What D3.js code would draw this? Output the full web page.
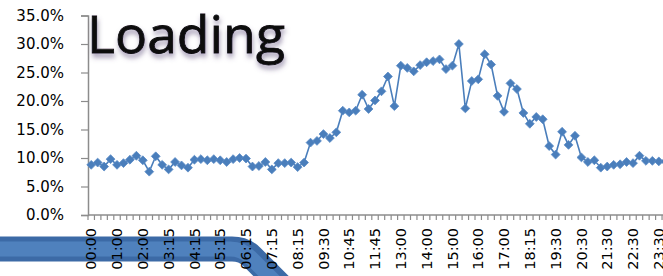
<!DOCTYPE html>
<html>
<head>
<meta charset="utf-8">
<script src="https://cdn.jsdelivr.net/npm/d3@7"></script>
<style>
  html, body { margin: 0; padding: 0; background: #fff; overflow: hidden; }
  svg { display: block; }
</style>
</head>
<body>
<div id="chart"></div>
<script>
// time slots (some 15 min slots are missing in the source)
const times = [
  "00:00","00:15","00:30","00:45","01:00","01:15","01:30","01:45","02:00","02:15",
  "02:45","03:00","03:15","03:30","03:45","04:00","04:15","04:30","04:45","05:00",
  "05:15","05:30","05:45","06:00","06:15","06:30","06:45","07:00","07:15","07:30",
  "07:45","08:00","08:15","08:30","08:45","09:15","09:30","09:45","10:15","10:30",
  "10:45","11:00","11:15","11:30","11:45","12:00","12:30","12:45","13:00","13:15",
  "13:30","13:45","14:00","14:15","14:30","14:45","15:00","15:15","15:30","15:45",
  "16:00","16:15","16:30","16:45","17:00","17:15","17:30","18:00","18:15","18:30",
  "18:45","19:00","19:30","19:45","20:00","20:15","20:30","20:45","21:00","21:15",
  "21:30","21:45","22:00","22:15","22:30","22:45","23:00","23:15","23:30","23:45"
];

// loading in percent
const loading = [
  8.8, 9.2, 8.5, 9.8, 8.8, 9.1, 9.7, 10.4, 9.6, 7.6,
  10.3, 8.8, 8.0, 9.3, 8.7, 8.3, 9.7, 9.8, 9.6, 9.8,
  9.6, 9.3, 9.8, 10.0, 9.9, 8.5, 8.6, 9.3, 8.0, 9.1,
  9.1, 9.2, 8.4, 9.2, 12.7, 13.0, 14.2, 13.5, 14.5, 18.3,
  18.0, 18.3, 21.1, 18.6, 20.1, 21.7, 24.3, 19.1, 26.2, 25.8,
  25.2, 26.3, 26.8, 27.0, 27.3, 25.6, 26.2, 30.0, 18.7, 23.5,
  23.8, 28.2, 26.4, 20.9, 18.1, 23.1, 22.1, 17.9, 16.0, 17.2,
  16.8, 12.1, 10.6, 14.6, 12.3, 13.9, 10.1, 9.3, 9.6, 8.3,
  8.5, 8.8, 8.9, 9.3, 9.1, 10.4, 9.5, 9.5, 9.4, 9.4
];

const yTicks = [0, 0.05, 0.10, 0.15, 0.20, 0.25, 0.30, 0.35];
const labelEvery = 4;

const width = 663, height = 276;
const svg = d3.select("#chart").append("svg")
    .attr("width", width)
    .attr("height", height)
    .style("font-family", "'DejaVu Sans', sans-serif");

const data = times.map((t, i) => ({ t, v: loading[i] / 100 }));

// plot runs past the right edge, like the cropped original
const x = d3.scaleBand().domain(times).range([88, 668.5]).padding(0);
const y = d3.scaleLinear().domain([0, 0.35]).range([215, 15.5]);

// blue ribbon behind the axis labels
svg.append("path").attr("d", "M-20,249 L232,249 Q244,249 252,257 L300,305")
    .attr("fill", "none").attr("stroke", "#3c6aa6").attr("stroke-width", 25);
svg.append("path").attr("d", "M-20,249 L230,249 Q242,249 250,257 L300,307")
    .attr("fill", "none").attr("stroke", "#4f81bd").attr("stroke-width", 15);

// y axis
const yAxis = svg.append("g")
    .attr("transform", "translate(88,0)")
    .call(d3.axisLeft(y).tickValues(yTicks).tickFormat(d3.format(".1%")).tickSize(7).tickPadding(17));
yAxis.select(".domain").attr("stroke", "#8c8c8c").attr("stroke-width", 1.5);
yAxis.selectAll(".tick line").attr("stroke", "#8c8c8c").attr("stroke-width", 1.2);
yAxis.selectAll("text").attr("fill", "#000").style("font-size", "15px")
    .style("font-family", "'DejaVu Sans', sans-serif");

// x axis: minor ticks between categories
const xAxis = svg.append("g")
    .attr("transform", `translate(${-x.step() / 2},215)`)
    .call(d3.axisBottom(x).tickSize(5).tickFormat(""));
xAxis.select(".domain").remove();
xAxis.selectAll(".tick line").attr("stroke", "#8c8c8c").attr("stroke-width", 1.2);
svg.append("line")
    .attr("x1", 88).attr("x2", width + 10).attr("y1", 215).attr("y2", 215)
    .attr("stroke", "#8c8c8c").attr("stroke-width", 1.5);

// x labels, every 4th slot, rotated
svg.append("g")
    .selectAll("text")
    .data(times.filter((d, i) => i % labelEvery === 0))
    .join("text")
    .attr("transform", d => `translate(${x(d) + x.bandwidth() / 2},228) rotate(-90)`)
    .attr("text-anchor", "end")
    .attr("dy", "0.35em")
    .style("font-size", "14.5px")
    .attr("fill", "#000")
    .text(d => d);

// line + diamond markers
const line = d3.line()
    .x(d => x(d.t) + x.bandwidth() / 2)
    .y(d => y(d.v));

svg.append("path")
    .datum(data)
    .attr("fill", "none")
    .attr("stroke", "#4a7ebb")
    .attr("stroke-width", 1.6)
    .attr("d", line);

const diamond = d3.symbol().type(d3.symbolDiamond2).size(50);
svg.append("g")
    .selectAll("path")
    .data(data)
    .join("path")
    .attr("transform", d => `translate(${x(d.t) + x.bandwidth() / 2},${y(d.v)})`)
    .attr("d", diamond)
    .attr("fill", "#4a7ebb")
    .attr("stroke", "#5b8cc6")
    .attr("stroke-width", 0.8);

// "Loading" title with soft shadow
const defs = svg.append("defs");
const f = defs.append("filter").attr("id", "shadow")
    .attr("x", "-10%").attr("y", "-30%").attr("width", "130%").attr("height", "180%");
f.append("feGaussianBlur").attr("in", "SourceAlpha").attr("stdDeviation", 2.5).attr("result", "b");
f.append("feOffset").attr("in", "b").attr("dx", 1).attr("dy", 4).attr("result", "o");
f.append("feFlood").attr("flood-color", "#5a4a78").attr("flood-opacity", 0.55);
f.append("feComposite").attr("in2", "o").attr("operator", "in").attr("result", "s");
const m = f.append("feMerge");
m.append("feMergeNode").attr("in", "s");
m.append("feMergeNode").attr("in", "SourceGraphic");

svg.append("text")
    .attr("x", 87)
    .attr("y", 53)
    .attr("textLength", 198)
    .attr("lengthAdjust", "spacingAndGlyphs")
    .attr("filter", "url(#shadow)")
    .attr("stroke", "#0a0a0a")
    .attr("stroke-width", 0.8)
    .style("font-family", "'Open Sans', 'Noto Sans', sans-serif")
    .style("font-size", "52px")
    .attr("fill", "#0a0a0a")
    .text("Loading");
</script>
</body>
</html>
